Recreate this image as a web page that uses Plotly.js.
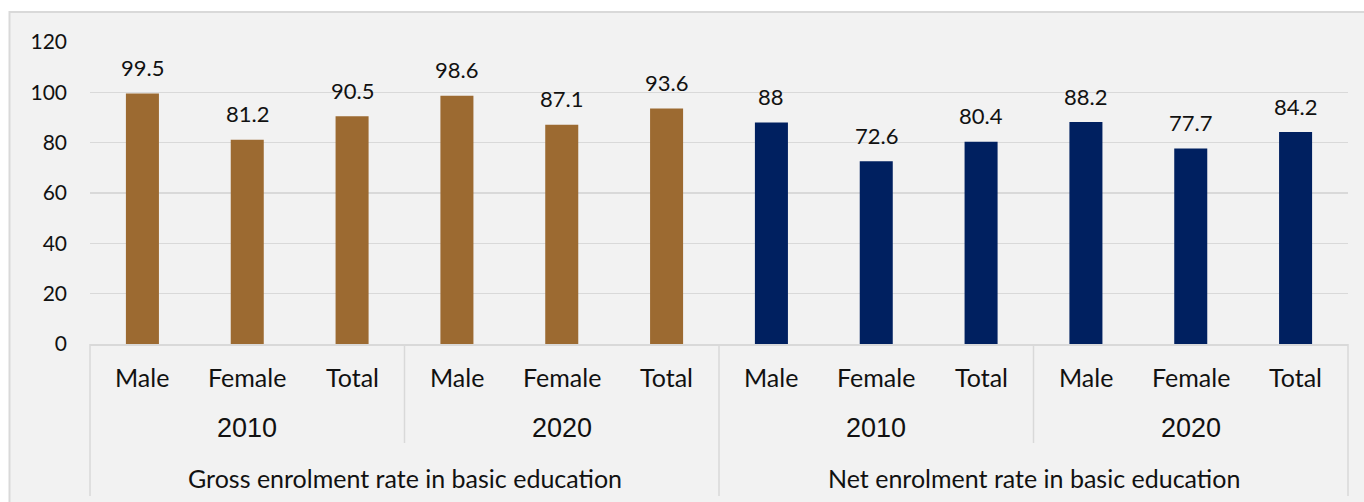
<!DOCTYPE html>
<html>
<head>
<meta charset="utf-8">
<script src="https://cdn.plot.ly/plotly-3.0.1.min.js"></script>
<style>
  html, body { margin: 0; padding: 0; background: #ffffff; }
  #chart { width: 1364px; height: 502px; }
</style>
</head>
<body>
<div id="chart"></div>
<script>
// ---- data ----
const indicators = ['Gross enrolment rate in basic education', 'Net enrolment rate in basic education'];
const years = ['2010', '2020'];
const sexes = ['Male', 'Female', 'Total'];
const grossValues = [99.5, 81.2, 90.5, 98.6, 87.1, 93.6];
const netValues = [88, 72.6, 80.4, 88.2, 77.7, 84.2];
const yTicks = [0, 20, 40, 60, 80, 100, 120];

// ---- styles ----
const BROWN = '#9C6A31';
const NAVY = '#002060';
const GRID = '#d9d9d9';
const TXT = '#111111';
const LABEL_FONT = 'Lato, "Open Sans", sans-serif';

const nSex = sexes.length;
const nYear = years.length;
const perInd = nSex * nYear;
const nCat = perInd * indicators.length;

const grossX = grossValues.map((_, i) => i);
const netX = netValues.map((_, i) => perInd + i);

const traces = [
  { type: 'bar', x: grossX, y: grossValues, width: 0.315, marker: { color: BROWN }, hoverinfo: 'y', showlegend: false },
  { type: 'bar', x: netX, y: netValues, width: 0.315, marker: { color: NAVY }, hoverinfo: 'y', showlegend: false }
];

const annotations = [];
// data labels
[[grossX, grossValues], [netX, netValues]].forEach(([xs, vs]) => {
  vs.forEach((v, i) => {
    annotations.push({
      x: xs[i], y: v, xref: 'x', yref: 'y', text: String(v), showarrow: false,
      yanchor: 'middle', yshift: 26, font: { family: LABEL_FONT, size: 22, color: TXT }
    });
  });
});
// category labels (three levels)
for (let g = 0; g < indicators.length; g++) {
  for (let yI = 0; yI < nYear; yI++) {
    for (let s = 0; s < nSex; s++) {
      const idx = g * perInd + yI * nSex + s;
      annotations.push({
        x: idx, y: 0, xref: 'x', yref: 'paper', text: sexes[s], showarrow: false,
        yanchor: 'middle', yshift: -33, font: { family: LABEL_FONT, size: 25, color: TXT }
      });
    }
    annotations.push({
      x: g * perInd + yI * nSex + (nSex - 1) / 2, y: 0, xref: 'x', yref: 'paper', text: years[yI], showarrow: false,
      yanchor: 'middle', yshift: -84, font: { family: '"Liberation Sans", Arial, sans-serif', size: 27, color: TXT }
    });
  }
  annotations.push({
    x: g * perInd + (perInd - 1) / 2, y: 0, xref: 'x', yref: 'paper', text: indicators[g], showarrow: false,
    yanchor: 'middle', yshift: -134, font: { family: LABEL_FONT, size: 25, color: TXT }
  });
}

// layout geometry
const W = 1364, H = 502;
const mL = 90, mR = 16, mT = 42, mB = 158;
const plotW = W - mL - mR, plotH = H - mT - mB;
const pxToPaperY = px => (H - mB - px) / plotH;   // px from top -> paper y
const pxToPaperX = px => (px - mL) / plotW;

const shapes = [];
// outer grey chart box
shapes.push({
  type: 'rect', xref: 'paper', yref: 'paper', layer: 'below',
  x0: pxToPaperX(9.5), x1: pxToPaperX(W + 20), y0: pxToPaperY(H + 20), y1: pxToPaperY(12),
  fillcolor: '#f2f2f2', line: { color: GRID, width: 2 }
});
// category separators
for (let k = 0; k <= nCat; k += nSex) {
  const isGroup = (k % perInd === 0);
  shapes.push({
    type: 'line', xref: 'paper', yref: 'paper', layer: 'above',
    x0: k / nCat, x1: k / nCat, y0: 0, y1: isGroup ? pxToPaperY(496) : pxToPaperY(443),
    line: { color: GRID, width: 1.5 }
  });
}

const layout = {
  width: W, height: H,
  margin: { l: mL, r: mR, t: mT, b: mB, pad: 0 },
  paper_bgcolor: '#ffffff',
  plot_bgcolor: 'rgba(0,0,0,0)',
  barmode: 'overlay',
  showlegend: false,
  xaxis: {
    range: [-0.5, nCat - 0.5], showticklabels: false, ticks: '', showgrid: false, zeroline: false,
    showline: true, linecolor: GRID, linewidth: 1.5, fixedrange: true
  },
  yaxis: {
    range: [0, 120], tickvals: yTicks, ticktext: yTicks.map(String), showgrid: true, gridcolor: GRID, gridwidth: 1.5,
    zeroline: false, showline: false, ticks: '', ticklabelstandoff: 22,
    tickfont: { family: LABEL_FONT, size: 21, color: TXT }, fixedrange: true
  },
  annotations: annotations,
  shapes: shapes
};

Plotly.newPlot('chart', traces, layout, { displayModeBar: false, staticPlot: true });
</script>
</body>
</html>
